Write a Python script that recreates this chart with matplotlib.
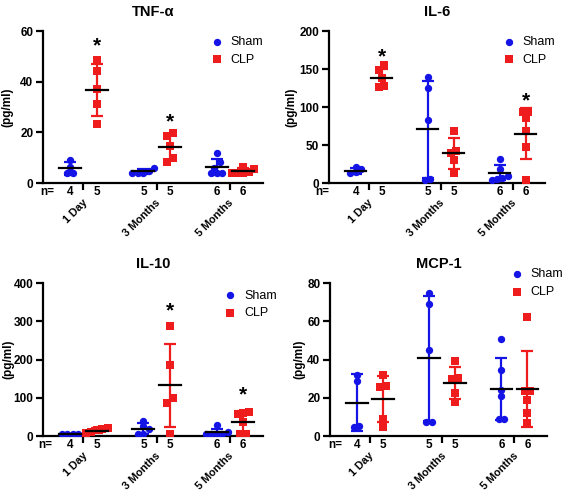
import numpy as np
import matplotlib
matplotlib.use("Agg")
import matplotlib.pyplot as plt
from matplotlib.transforms import blended_transform_factory

plt.rcParams['font.family'] = ['Liberation Sans', 'DejaVu Sans']

#-------------------------------------------- data
groups = ["1 Day", "3 Months", "5 Months"]

tnf_sham = [[9.1, 6.4, 3.8, 3.8], [6.0, 4.8, 4.0, 4.0, 4.0], [12.0, 8.2, 6.1, 3.8, 3.8, 3.8]]
tnf_clp = [[48.6, 44.2, 37.1, 31.1, 23.2], [19.6, 18.5, 14.7, 9.7, 8.2], [6.3, 5.5, 4.5, 4.0, 4.0, 4.0]]
tnf_sham_mean = [5.8, 4.6, 6.3]; tnf_sham_sd = [2.5, 0.9, 3.2]
tnf_clp_mean = [36.8, 14.1, 4.8]; tnf_clp_sd = [10.2, 5.1, 1.0]

il6_sham = [[21, 18, 14, 13], [139, 124.6, 82.9, 5.3, 4], [31, 19, 9.6, 6.2, 4.9, 4]]
il6_clp = [[155, 148.7, 137.7, 127.6, 126.7], [68.4, 42, 39, 30, 12.7], [93, 93, 85, 68.4, 47.8, 4]]
il6_sham_mean = [16.2, 70.6, 13.6]; il6_sham_sd = [4.0, 64.0, 10.0]
il6_clp_mean = [138.6, 39.0, 65.0]; il6_clp_sd = [11.5, 20.3, 34.0]

il10_sham = [[6, 5, 5, 4], [40, 25, 18, 6, 5], [29, 10, 6, 5, 4, 4]]
il10_clp = [[20, 18, 15, 10, 8], [286.8, 184.8, 99.3, 86.3, 5.2], [62, 60, 57, 37, 6, 5]]
il10_sham_mean = [5.0, 19.0, 9.7]; il10_sham_sd = [1.0, 14.0, 9.5]
il10_clp_mean = [14.0, 132.5, 37.8]; il10_clp_sd = [6.0, 108.0, 28.0]

mcp_sham = [[32, 28.9, 5.1, 4.7], [74.8, 69, 45.1, 7.3, 7.2], [50.9, 34.7, 24.2, 20.8, 8.9, 8.9]]
mcp_clp = [[32, 26, 25.5, 8.9, 4.7], [39, 30.3, 29.8, 22.5, 17.6], [62.2, 23.4, 23.4, 19, 12, 6.8]]
mcp_sham_mean = [17.5, 40.6, 24.7]; mcp_sham_sd = [15.0, 32.7, 16.1]
mcp_clp_mean = [19.5, 27.7, 24.7]; mcp_clp_sd = [12.0, 8.2, 19.9]

n_sham = [4, 5, 6]
n_clp = [5, 5, 6]

# significance stars: (group index, y value)
tnf_stars = [(0, 54), (1, 24)]
il6_stars = [(0, 166), (2, 108)]
il10_stars = [(1, 326), (2, 108)]
mcp_stars = []

BLUE = "#1414e6"
RED = "#ee1c1c"


def spread(vals, center, thresh, dx):
    # put points with near values side by side, like a scatter dot plot
    vals = np.asarray(vals, float)
    order = np.argsort(vals)
    xs = np.full(len(vals), center, float)
    clusters = [[order[0]]]
    for i in order[1:]:
        if vals[i] - vals[clusters[-1][0]] < thresh:
            clusters[-1].append(i)
        else:
            clusters.append([i])
    for c in clusters:
        k = len(c)
        for j, idx in enumerate(c):
            xs[idx] = center + (j - (k - 1) / 2) * dx
    return xs


def panel(ax, title, ymax, ystep, sham, clp, sm, ssd, cm, csd, stars, leg_xy, n_x, ylab_x):
    off = 0.18
    thresh = ymax * 0.035
    for g in range(3):
        for vals, mean, sd, c, mk, x0 in [(sham[g], sm[g], ssd[g], BLUE, "o", g + 1 - off),
                                          (clp[g], cm[g], csd[g], RED, "s", g + 1 + off)]:
            ax.errorbar([x0], [mean], yerr=[sd], color=c, lw=1.6, capsize=4, capthick=1.6,
                        fmt="none", zorder=2)
            xs = spread(vals, x0, thresh, 0.075)
            ax.scatter(xs, vals, color=c, marker=mk, s=28 if mk == "o" else 26,
                       linewidths=0, zorder=3)
            ax.plot([x0 - 0.15, x0 + 0.15], [mean, mean], color="black", lw=1.6, zorder=4)
    for g, yv in stars:
        ax.text(g + 1 + off, yv, "*", ha="center", va="center", fontsize=15,
                fontweight="bold")

    ax.set_xlim(0.45, 3.45)
    ax.set_ylim(0, ymax)
    ax.set_yticks(np.arange(0, ymax + 1, ystep))
    ax.set_xticks([1, 2, 3])
    ax.set_xticklabels([])
    for s in ["top", "right"]:
        ax.spines[s].set_visible(False)
    for s in ["left", "bottom"]:
        ax.spines[s].set_linewidth(1.6)
    ax.tick_params(axis="both", width=1.6, length=5, labelsize=8.5, pad=2)
    for lab in ax.get_yticklabels():
        lab.set_fontweight("bold")
    ax.set_title(title, fontsize=10.5, fontweight="bold", pad=11)
    ax.set_ylabel("(pg/ml)", fontsize=8.5, fontweight="bold")
    ax.yaxis.set_label_coords(ylab_x, 0.5)

    tr = blended_transform_factory(ax.transData, ax.transAxes)
    ax.text(n_x, -0.06, "n=", transform=ax.transAxes, ha="left", va="center",
            fontsize=8.5, fontweight="bold")
    for g in range(3):
        ax.text(g + 1 - off, -0.06, str(n_sham[g]), transform=tr, ha="center",
                va="center", fontsize=8.5, fontweight="bold")
        ax.text(g + 1 + off, -0.06, str(n_clp[g]), transform=tr, ha="center",
                va="center", fontsize=8.5, fontweight="bold")
        ax.text(g + 1 - 0.02, -0.095, groups[g], transform=tr, ha="right", va="top",
                rotation=45, rotation_mode="anchor", fontsize=7.8, fontweight="bold")

    h1 = ax.scatter([], [], color=BLUE, marker="o", s=28, linewidths=0)
    h2 = ax.scatter([], [], color=RED, marker="s", s=26, linewidths=0)
    ax.legend([h1, h2], ["Sham", "CLP"], loc="center left", bbox_to_anchor=leg_xy,
              frameon=False, fontsize=9, handletextpad=0.6, labelspacing=0.45,
              borderaxespad=0, handlelength=1.0)


fig = plt.figure(figsize=(5.67, 4.9), dpi=100)
ax1 = fig.add_axes([43 / 567, 1 - 183 / 490, 220 / 567, 152 / 490])
ax2 = fig.add_axes([329 / 567, 1 - 183 / 490, 216 / 567, 152 / 490])
ax3 = fig.add_axes([43 / 567, 1 - 436 / 490, 220 / 567, 153 / 490])
ax4 = fig.add_axes([330 / 567, 1 - 436 / 490, 217 / 567, 153 / 490])

panel(ax1, "TNF-α", 60, 20, tnf_sham, tnf_clp, tnf_sham_mean, tnf_sham_sd,
      tnf_clp_mean, tnf_clp_sd, tnf_stars, (0.74, 0.87), -0.014, -0.136)
panel(ax2, "IL-6", 200, 50, il6_sham, il6_clp, il6_sham_mean, il6_sham_sd,
      il6_clp_mean, il6_clp_sd, il6_stars, (0.78, 0.87), -0.065, -0.148)
panel(ax3, "IL-10", 400, 100, il10_sham, il10_clp, il10_sham_mean, il10_sham_sd,
      il10_clp_mean, il10_clp_sd, il10_stars, (0.80, 0.86), -0.023, -0.13)
panel(ax4, "MCP-1", 80, 20, mcp_sham, mcp_clp, mcp_sham_mean, mcp_sham_sd,
      mcp_clp_mean, mcp_clp_sd, mcp_stars, (0.81, 1.0), -0.01, -0.115)

fig.savefig("out.png", dpi=100)
